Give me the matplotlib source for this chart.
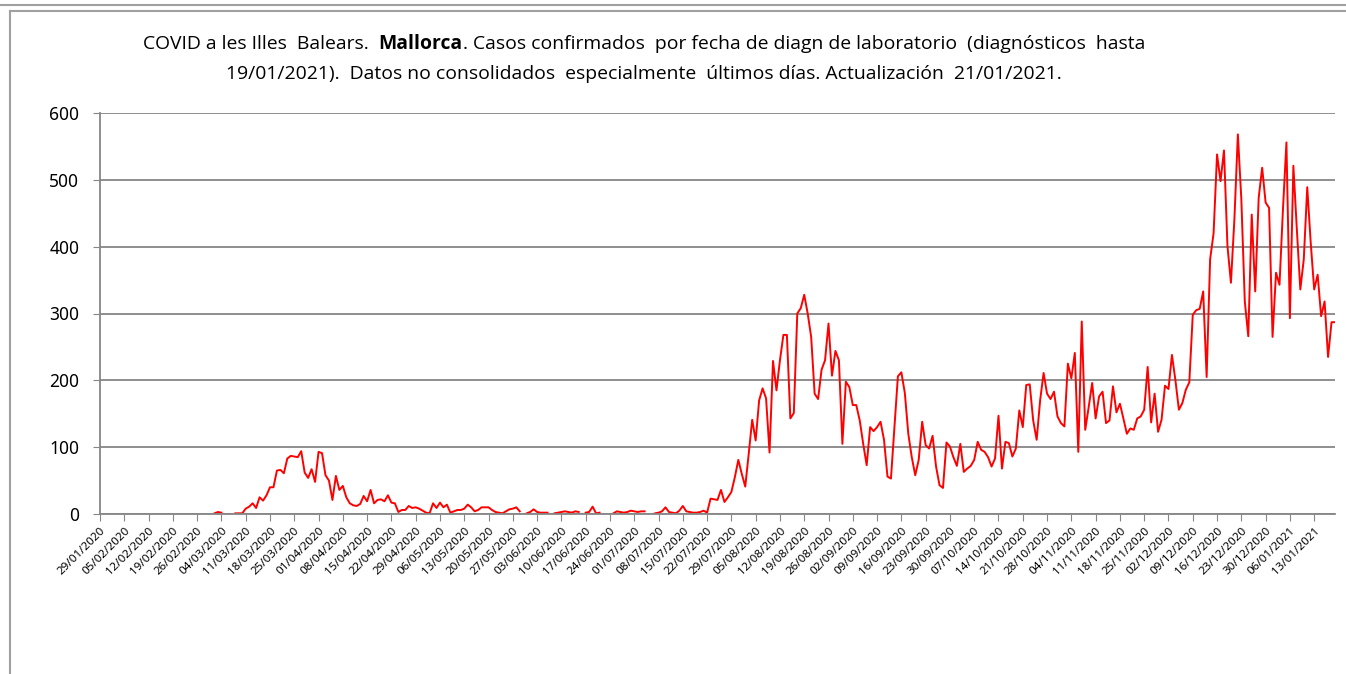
import numpy as np
import pandas as pd
import matplotlib
matplotlib.use('Agg')
import matplotlib.pyplot as plt
import matplotlib.dates as mdates
from matplotlib.lines import Line2D

nan = np.nan

# casos diarios, 29/01/2020 .. 19/01/2021 (nan = sin dato)
cases = [
    nan, nan, nan, nan, nan, nan, nan, nan, nan, nan,
    nan, nan, nan, nan, nan, nan, nan, nan, nan, nan,
    nan, nan, nan, nan, nan, nan, nan, nan, nan, nan,
    nan, nan, nan, 1, 3, 2, nan, nan, nan, 1,
    1, 1, 8, 11, 16, 9, 25, 20, 28, 40,
    40, 65, 66, 61, 83, 87, 86, 85, 94, 62,
    54, 67, 48, 93, 91, 58, 50, 21, 57, 36,
    42, 25, 16, 13, 12, 15, 27, 19, 36, 16,
    21, 22, 19, 28, 17, 16, 3, 6, 6, 12,
    9, 10, 8, 5, 2, 1, 16, 9, 17, 10,
    14, 2, 4, 6, 6, 8, 14, 10, 4, 6,
    10, 10, 10, 6, 3, 2, 1, 4, 7, 8,
    10, 4, nan, 1, 3, 7, 3, 2, 2, 2,
    nan, 1, 2, 3, 4, 3, 2, 4, 3, nan,
    2, 3, 11, 1, 2, nan, nan, nan, 1, 4,
    3, 2, 3, 5, 4, 3, 4, 4, nan, nan,
    1, 2, 4, 10, 3, 2, 1, 5, 12, 4,
    3, 2, 2, 3, 5, 2, 23, 22, 21, 36,
    18, 25, 33, 55, 81, 60, 41, 90, 141, 110,
    170, 188, 173, 92, 229, 185, 230, 268, 268, 143,
    151, 300, 308, 328, 300, 265, 180, 172, 216, 230,
    285, 207, 244, 230, 105, 198, 190, 163, 163, 140,
    105, 73, 130, 124, 130, 138, 111, 56, 53, 130,
    206, 212, 181, 120, 85, 58, 81, 138, 103, 98,
    117, 71, 43, 39, 107, 101, 85, 72, 105, 63,
    68, 72, 81, 108, 96, 93, 85, 71, 83, 147,
    68, 108, 106, 86, 98, 155, 130, 193, 194, 140,
    111, 170, 211, 180, 172, 183, 146, 136, 131, 225,
    203, 241, 93, 288, 126, 160, 196, 143, 176, 183,
    136, 140, 191, 152, 165, 143, 120, 128, 126, 143,
    146, 156, 220, 137, 180, 123, 141, 192, 187, 238,
    200, 156, 166, 186, 197, 298, 305, 307, 333, 205,
    381, 420, 538, 498, 544, 401, 346, 441, 568, 471,
    318, 266, 448, 333, 473, 518, 466, 458, 265, 361,
    343, 456, 556, 293, 521, 426, 336, 381, 489, 406,
    336, 358, 296, 318, 235, 287, 287,
]
dates = pd.date_range('2020-01-29', periods=len(cases), freq='D')
tick_dates = pd.date_range('2020-01-29', '2021-01-19', freq='7D')
yticks = [0, 100, 200, 300, 400, 500, 600]

title_a = 'COVID a les Illes  Balears.  '
title_b = 'Mallorca'
title_c = '. Casos confirmados  por fecha de diagn de laboratorio  (diagnósticos  hasta'
title_2 = '19/01/2021).  Datos no consolidados  especialmente  últimos días. Actualización  21/01/2021.'

plt.rcParams['font.family'] = ['Noto Sans', 'DejaVu Sans']

fig = plt.figure(figsize=(13.46, 6.74), dpi=100)
ax = fig.add_axes([100/1346, 1 - 514/674, 1235/1346, 401/674])

ax.plot(dates, cases, color='#ff0000', lw=1.4)

ax.set_xlim(dates[0], dates[-1])
ax.set_ylim(0, 600)
ax.set_yticks(yticks)
ax.set_xticks(tick_dates)
ax.xaxis.set_major_formatter(mdates.DateFormatter('%d/%m/%Y'))
plt.setp(ax.get_xticklabels(), rotation=45, ha='right', rotation_mode='anchor', fontsize=8.4)
ax.tick_params(axis='y', labelsize=12.5, length=5, color='#868686', pad=10)
ax.tick_params(axis='x', length=5, color='#868686', pad=3)

ax.grid(axis='y', color='#868686', lw=1.3)
ax.set_axisbelow(True)
for s in ['top', 'right']:
    ax.spines[s].set_visible(False)
for s in ['left', 'bottom']:
    ax.spines[s].set_color('#868686')
    ax.spines[s].set_linewidth(1.3)

# titulo en dos lineas, con "Mallorca" en negrita
tfont = ['Open Sans', 'DejaVu Sans']
fs = 13.0
W = 1346
y1 = 1 - 44/674
r = fig.canvas.get_renderer()
ta = fig.text(0, y1, title_a, fontsize=fs, va='center', family=tfont)
tb = fig.text(0, y1, title_b, fontsize=fs, va='center', family=tfont, fontweight='bold')
tc = fig.text(0, y1, title_c, fontsize=fs, va='center', family=tfont)
total = sum(t.get_window_extent(r).width for t in (ta, tb, tc))
fs = fs * 998 / total
for t in (ta, tb, tc):
    t.set_fontsize(fs)
wa = ta.get_window_extent(r).width
wb = tb.get_window_extent(r).width
wc = tc.get_window_extent(r).width
x0 = 644 - (wa + wb + wc) / 2
ta.set_x(x0 / W)
tb.set_x((x0 + wa) / W)
tc.set_x((x0 + wa + wb) / W)
fig.text(644 / W, 1 - 74/674, title_2, ha='center', va='center', fontsize=fs, family=tfont)

# marco del area del grafico
fig.add_artist(Line2D([0, 1], [1 - 5/674, 1 - 5/674], color='#a0a0a0', lw=1.5, transform=fig.transFigure))
fig.add_artist(Line2D([9.5/1346, 1], [1 - 11/674, 1 - 11/674], color='#a0a0a0', lw=1.5, transform=fig.transFigure))
fig.add_artist(Line2D([9.5/1346, 9.5/1346], [0, 1 - 11/674], color='#a0a0a0', lw=1.5, transform=fig.transFigure))

fig.savefig('out.png', dpi=100)
